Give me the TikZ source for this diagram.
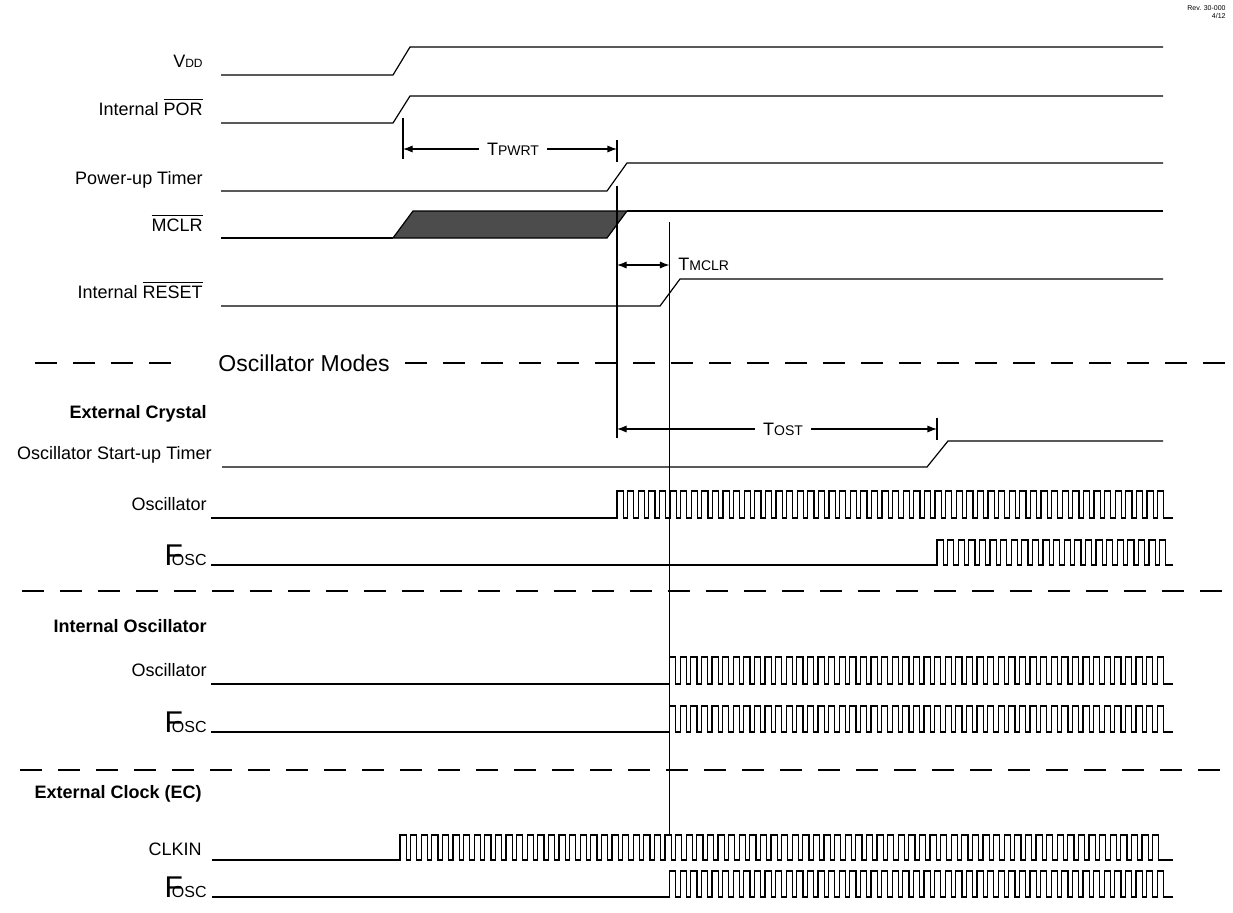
\documentclass[tikz,border=0pt]{standalone}
\usepackage{fontspec}
\setmainfont{Liberation Sans}
\usetikzlibrary{arrows.meta,positioning}
\newcommand\subcap[1]{{\fontsize{7}{7}\selectfont #1}}
\newcommand\fosc{{\fontsize{15}{15}\selectfont F}\kern-5.5pt{\fontsize{8}{8}\selectfont OSC}}
\newcommand\negsig[1]{$\overline{\mbox{#1}}$}

\begin{document}
\begin{tikzpicture}[x=0.5pt,y=-0.5pt,
  lbl/.style={anchor=base east,inner sep=0pt,font=\fontsize{9}{10}\selectfont},
  sect/.style={anchor=base east,inner sep=0pt,font=\fontsize{9}{10}\selectfont\bfseries},
  sig/.style={line width=0.6pt},
  tick/.style={line width=0.6pt},
  dimarrow/.style={-{Latex[length=4.8pt,width=3.6pt]},line width=0.6pt},
  dimtext/.style={inner sep=4pt,font=\fontsize{9}{10}\selectfont},
  modesep/.style={line width=0.8pt,dash pattern=on 11pt off 8pt}]

\useasboundingbox (0,0) rectangle (1233,912);

\node[anchor=base east,inner sep=0pt,font=\fontsize{3.5}{4}\selectfont] (rev) at (1226,10) {Rev. 30-000};
\node[anchor=base east,inner sep=0pt,font=\fontsize{3.5}{4}\selectfont] (revdate) at (1226,18) {4/12};

% power-up signals
\node[lbl] (vdd) at (203,67) {V{\fontsize{6}{6}\selectfont DD}};
\coordinate (vddS) at (221,75);
\draw[sig] (vddS) -- (393,75) -- (410,47) -- (1163,47);

\node[lbl] (por) at (203,115) {Internal \negsig{POR}};
\coordinate (porS) at (221,123);
\draw[sig] (porS) -- (393,123) -- (410,96) -- (1163,96);

\node[lbl] (pwrt) at (203,184) {Power-up Timer};
\coordinate (pwrtS) at (221,191);
\draw[sig] (pwrtS) -- (607,191) -- (627,163) -- (1163,163);

\node[lbl] (mclr) at (203,231) {\negsig{MCLR}};
\coordinate (mclrS) at (221,238);
\draw[sig] (mclrS) -- (393,238);
\draw[sig,fill=black!70] (393,238) -- (413,211) -- (627,211) -- (607,238) -- cycle;
\draw[sig] (627,211) -- (1163,211);

\node[lbl] (reset) at (203,298) {Internal \negsig{RESET}};
\coordinate (resetS) at (221,306);
\draw[sig] (resetS) -- (660,306) -- (680,279) -- (1163,279);

% timing marks
\coordinate (pwrtL) at (403,149);
\coordinate (pwrtR) at (617,149);
\draw[tick] (403,118) -- (403,159);
\draw[tick] (617,140) -- (617,162);
\node[dimtext] (tpwrt) at (513,149) {T\subcap{PWRT}};
\draw[dimarrow] (tpwrt.west) -- (pwrtL);
\draw[dimarrow] (tpwrt.east) -- (pwrtR);

\coordinate (ostTop) at (617,186);
\coordinate (ostBot) at (617,438);
\draw[tick] (ostTop) -- (ostBot);
\coordinate (rstTop) at (669.5,222);
\coordinate (rstBot) at (669.5,834);
\draw[tick] (rstTop) -- (rstBot);

\coordinate (mclrL) at (617,265);
\coordinate (mclrR) at (669.5,265);
\draw[dimarrow,{Latex[length=4.8pt,width=3.6pt]}-{Latex[length=4.8pt,width=3.6pt]}] (mclrL) -- (mclrR);
\node[anchor=base west,inner sep=0pt,font=\fontsize{9}{10}\selectfont] (tmclr) at (678,270) {T\subcap{MCLR}};

% oscillator modes
\node[anchor=west,inner sep=0pt,font=\fontsize{11.5}{12}\selectfont] (modes) at (218,363) {Oscillator Modes};
\coordinate (sepAL) at (35,363);
\coordinate (sepAR) at (172,363);
\coordinate (sepBL) at (405,363);
\coordinate (sepBR) at (1233,363);
\draw[modesep] (sepAL) -- (sepAR);
\draw[modesep] (sepBL) -- (sepBR);

% external crystal
\node[sect] (xtal) at (207,418) {External Crystal};

\node[lbl] (ost) at (212,459) {Oscillator Start-up Timer};
\coordinate (ostS) at (222,467);
\draw[sig] (ostS) -- (927,467) -- (948,441) -- (1163,441);

\coordinate (ostL) at (617,429);
\coordinate (ostR) at (937,429);
\draw[tick] (937,418) -- (937,440);
\node[dimtext] (tost) at (783,429) {T\subcap{OST}};
\draw[dimarrow] (tost.west) -- (ostL);
\draw[dimarrow] (tost.east) -- (ostR);

\node[lbl] (xosc) at (207,510) {Oscillator};
\coordinate (xoscS) at (211,518);
\draw[sig] (xoscS) -- (617,518) foreach \i in {1,...,52} { -- ++(0,-27) -- ++(6.2,0) -- ++(0,27) -- ++(4.4,0) } -- (1173,518);

\node[lbl] (xfosc) at (207,565) {\fosc};
\coordinate (xfoscS) at (211,565);
\draw[sig] (xfoscS) -- (937,565) foreach \i in {1,...,22} { -- ++(0,-25) -- ++(6.2,0) -- ++(0,25) -- ++(4.4,0) } -- (1173,565);

\coordinate (sepCL) at (22,591);
\coordinate (sepCR) at (1233,591);
\draw[modesep] (sepCL) -- (sepCR);

% internal oscillator
\node[sect] (intosc) at (207,632) {Internal Oscillator};

\node[lbl] (iosc) at (207,676) {Oscillator};
\coordinate (ioscS) at (211,684);
\draw[sig] (ioscS) -- (669.5,684) foreach \i in {1,...,47} { -- ++(0,-27) -- ++(6.2,0) -- ++(0,27) -- ++(4.4,0) } -- (1173,684);

\node[lbl] (ifosc) at (207,732) {\fosc};
\coordinate (ifoscS) at (211,732);
\draw[sig] (ifoscS) -- (669.5,732) foreach \i in {1,...,47} { -- ++(0,-26) -- ++(6.2,0) -- ++(0,26) -- ++(4.4,0) } -- (1173,732);

\coordinate (sepDL) at (20,770);
\coordinate (sepDR) at (1233,770);
\draw[modesep] (sepDL) -- (sepDR);

% external clock
\node[sect] (extclk) at (202,798) {External Clock (EC)};

\node[lbl] (clkin) at (202,855) {CLKIN};
\coordinate (clkinS) at (212,860);
\draw[sig] (clkinS) -- (400,860) foreach \i in {1,...,72} { -- ++(0,-25) -- ++(6.2,0) -- ++(0,25) -- ++(4.4,0) } -- (1173,860);

\node[lbl] (efosc) at (207,897) {\fosc};
\coordinate (efoscS) at (212,897);
\draw[sig] (efoscS) -- (669.5,897) foreach \i in {1,...,47} { -- ++(0,-26) -- ++(6.2,0) -- ++(0,26) -- ++(4.4,0) } -- (1173,897);
\end{tikzpicture}
\end{document}
